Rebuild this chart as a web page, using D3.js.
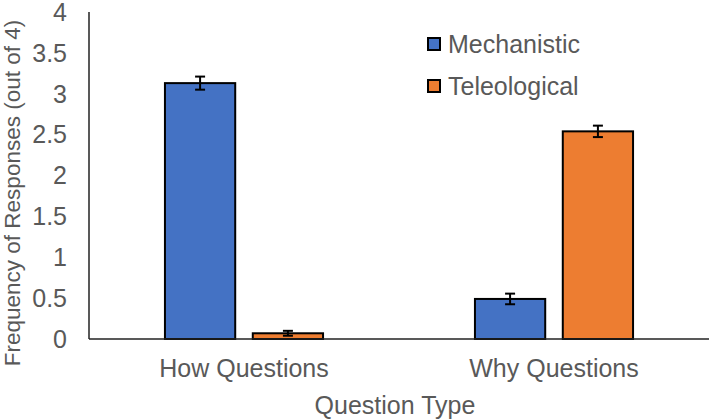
<!DOCTYPE html>
<html>
<head>
<meta charset="utf-8">
<script src="https://cdn.jsdelivr.net/npm/d3@7"></script>
<style>
  body { margin: 0; background: #fff; }
  text { font-family: "Liberation Sans", Arial, sans-serif; fill: #595959; }
</style>
</head>
<body>
<div id="chart"></div>
<script>
var categories = ["How Questions", "Why Questions"]
var seriesNames = ["Mechanistic", "Teleological"]
var seriesColors = ["#4472C4", "#ED7D31"]
var mechanistic = [3.13, 0.49]
var teleological = [0.07, 2.54]
var mechanisticErr = [0.08, 0.065]
var teleologicalErr = [0.03, 0.07]
var yTicks = [0, 0.5, 1, 1.5, 2, 2.5, 3, 3.5, 4]

var width = 709, height = 420
var plotLeft = 89, plotRight = 709, plotTop = 12, plotBottom = 339

var svg = d3.select("#chart").append("svg")
    .attr("width", width)
    .attr("height", height)

var y = d3.scaleLinear().domain([0, 4]).range([plotBottom, plotTop])
var x0 = d3.scaleBand().domain(categories).range([plotLeft, plotRight])
    .paddingInner(0.49).paddingOuter(0.245)
var x1 = d3.scaleBand().domain(seriesNames).range([0, x0.bandwidth()])
    .paddingInner(0.2).paddingOuter(0)

var rows = categories.map(function (c, i) {
  return [
    { cat: c, key: seriesNames[0], value: mechanistic[i], err: mechanisticErr[i], color: seriesColors[0] },
    { cat: c, key: seriesNames[1], value: teleological[i], err: teleologicalErr[i], color: seriesColors[1] }
  ]
})

// y tick labels (no tick marks)
svg.append("g").selectAll("text")
  .data(yTicks)
  .enter()
  .append("text")
  .attr("x", plotLeft - 22)
  .attr("y", function (d) { return y(d) })
  .attr("dy", "0.35em")
  .attr("text-anchor", "end")
  .style("font-size", "25px")
  .text(function (d) { return d })

var group = svg.selectAll(".grp")
  .data(rows)
  .enter()
  .append("g")
  .attr("class", "grp")
  .attr("transform", function (d) { return "translate(" + x0(d[0].cat) + ",0)" })

group.selectAll("rect")
  .data(function (d) { return d })
  .enter()
  .append("rect")
  .attr("x", function (d) { return x1(d.key) })
  .attr("y", function (d) { return y(d.value) })
  .attr("width", x1.bandwidth())
  .attr("height", function (d) { return y(0) - y(d.value) })
  .attr("fill", function (d) { return d.color })
  .attr("stroke", "#000")
  .attr("stroke-width", 2)

// error bars
var eb = group.selectAll(".err")
  .data(function (d) { return d })
  .enter()
  .append("g")
  .attr("class", "err")
  .attr("stroke", "#000")
  .attr("stroke-width", 2)
eb.append("line")
  .attr("x1", function (d) { return x1(d.key) + x1.bandwidth() / 2 })
  .attr("x2", function (d) { return x1(d.key) + x1.bandwidth() / 2 })
  .attr("y1", function (d) { return y(d.value + d.err) })
  .attr("y2", function (d) { return y(d.value - d.err) })
eb.selectAll(".cap")
  .data(function (d) { return [d.value + d.err, d.value - d.err].map(function (v) { return { v: v, d: d } }) })
  .enter()
  .append("line")
  .attr("x1", function (e) { return x1(e.d.key) + x1.bandwidth() / 2 - 5 })
  .attr("x2", function (e) { return x1(e.d.key) + x1.bandwidth() / 2 + 5 })
  .attr("y1", function (e) { return y(e.v) })
  .attr("y2", function (e) { return y(e.v) })

// axes lines
svg.append("line")
  .attr("x1", plotLeft).attr("x2", plotLeft)
  .attr("y1", y(4)).attr("y2", y(0))
  .attr("stroke", "#222").attr("stroke-width", 1.5)
svg.append("line")
  .attr("x1", plotLeft).attr("x2", plotRight)
  .attr("y1", y(0)).attr("y2", y(0))
  .attr("stroke", "#222").attr("stroke-width", 1.5)

// category labels
svg.append("g").selectAll("text")
  .data(categories)
  .enter()
  .append("text")
  .attr("x", function (d) { return x0(d) + x0.bandwidth() / 2 })
  .attr("y", 377)
  .attr("text-anchor", "middle")
  .style("font-size", "25px")
  .text(function (d) { return d })

svg.append("text")
  .attr("x", (plotLeft + plotRight) / 2 - 4)
  .attr("y", 414)
  .attr("text-anchor", "middle")
  .style("font-size", "25px")
  .text("Question Type")

svg.append("text")
  .attr("transform", "translate(12,193) rotate(-90)")
  .attr("text-anchor", "middle")
  .attr("dy", "0.35em")
  .style("font-size", "22.5px")
  .text("Frequency of Responses (out of 4)")

// legend
var legend = svg.selectAll(".legend")
  .data(seriesNames)
  .enter()
  .append("g")
  .attr("class", "legend")
  .attr("transform", function (d, i) { return "translate(428," + (38 + i * 42) + ")" })
legend.append("rect")
  .attr("width", 12).attr("height", 12)
  .attr("fill", function (d, i) { return seriesColors[i] })
  .attr("stroke", "#000").attr("stroke-width", 2)
legend.append("text")
  .attr("x", 20)
  .attr("y", 15)
  .style("font-size", "25px")
  .text(function (d) { return d })
</script>
</body>
</html>
